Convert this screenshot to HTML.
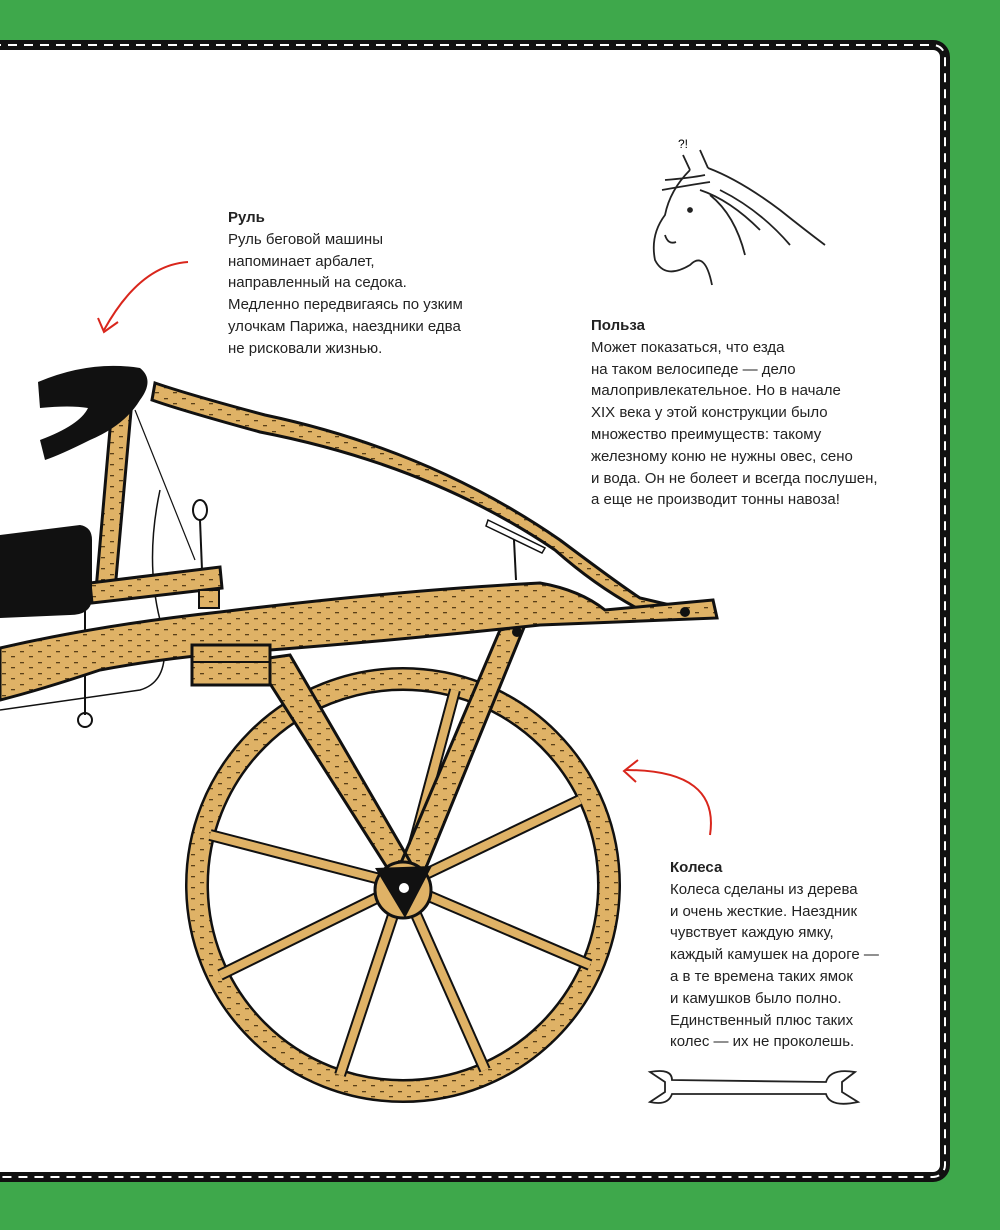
<!DOCTYPE html>
<html><head><meta charset="utf-8"><style>
html,body{margin:0;padding:0}
body{width:1000px;height:1230px;background:#3ea84b;position:relative;overflow:hidden;font-family:"Liberation Sans","Noto Sans CJK SC",sans-serif}
.t{position:absolute;font-size:15px;line-height:21.8px;color:#222}
.t b{font-weight:bold}
svg{position:absolute;left:0;top:0}
</style></head><body>
<svg width="1000" height="1230" viewBox="0 0 1000 1230">
<defs>
<pattern id="w" width="18" height="11" patternUnits="userSpaceOnUse">
<rect width="18" height="11" fill="#dfb266"/>
<rect x="2" y="2" width="4" height="1.3" fill="#5a4018"/>
<rect x="11" y="7" width="4" height="1.3" fill="#5a4018"/>
</pattern>
</defs>
<rect x="-20" y="45" width="965" height="1132" rx="12" fill="#fff" stroke="#111" stroke-width="10"/>
<rect x="-20" y="45" width="965" height="1132" rx="12" fill="none" stroke="#fff" stroke-width="2" stroke-dasharray="9 7"/>

<circle cx="403" cy="885" r="206" fill="none" stroke="#111" stroke-width="24"/>
<circle cx="403" cy="885" r="206" fill="none" stroke="url(#w)" stroke-width="19"/>
<g stroke="#111" stroke-width="12">
<line x1="403" y1="885" x2="210" y2="835"/><line x1="403" y1="885" x2="220" y2="975"/>
<line x1="403" y1="885" x2="340" y2="1075"/><line x1="403" y1="885" x2="485" y2="1070"/>
<line x1="403" y1="885" x2="590" y2="965"/><line x1="403" y1="885" x2="580" y2="800"/>
<line x1="403" y1="885" x2="455" y2="690"/>
</g>
<g stroke="#dfb266" stroke-width="8">
<line x1="403" y1="885" x2="210" y2="835"/><line x1="403" y1="885" x2="220" y2="975"/>
<line x1="403" y1="885" x2="340" y2="1075"/><line x1="403" y1="885" x2="485" y2="1070"/>
<line x1="403" y1="885" x2="590" y2="965"/><line x1="403" y1="885" x2="580" y2="800"/>
<line x1="403" y1="885" x2="455" y2="690"/>
</g>
<path d="M255 660 L290 655 L415 870 L395 880 Z M500 630 L525 625 L425 870 L400 865 Z" fill="url(#w)" stroke="#111" stroke-width="3"/>
<circle cx="403" cy="890" r="28" fill="#dfb266" stroke="#111" stroke-width="3"/>
<path d="M375 868 L432 866 L405 918 Z" fill="#111"/>
<circle cx="404" cy="888" r="5" fill="#fff"/>

<path d="M160 490 Q145 560 160 620 Q175 680 140 690 L0 710" fill="none" stroke="#111" stroke-width="1.5"/>
<line x1="135" y1="410" x2="195" y2="560" stroke="#111" stroke-width="1.2"/>
<line x1="85" y1="600" x2="85" y2="715" stroke="#111" stroke-width="2"/>
<circle cx="85" cy="720" r="7" fill="none" stroke="#111" stroke-width="2"/>
<ellipse cx="200" cy="510" rx="7" ry="10" fill="none" stroke="#111" stroke-width="2"/>
<line x1="200" y1="520" x2="203" y2="595" stroke="#111" stroke-width="2"/>
<line x1="514" y1="540" x2="516" y2="580" stroke="#111" stroke-width="2"/>
<path d="M488 520 L545 548 L542 553 L486 526 Z" fill="#fff" stroke="#111" stroke-width="1.5"/>

<path d="M155 383 Q190 395 265 415 Q430 450 560 540 Q620 585 640 598 L700 612 L650 615 Q600 590 555 550 Q430 465 260 432 Q180 410 152 400 Z" fill="url(#w)" stroke="#111" stroke-width="3"/>
<path d="M113 395 L132 400 L115 590 L96 590 Z" fill="url(#w)" stroke="#111" stroke-width="3"/>
<path d="M90 583 L220 567 L222 588 L92 603 Z" fill="url(#w)" stroke="#111" stroke-width="3"/>
<rect x="199" y="590" width="20" height="18" fill="url(#w)" stroke="#111" stroke-width="2"/>
<path d="M0 648 Q100 625 220 612 Q400 590 540 583 Q580 590 605 610 L713 600 L717 618 L540 625 Q400 640 270 650 Q180 655 100 670 Q40 690 0 700 Z" fill="url(#w)" stroke="#111" stroke-width="3"/>
<rect x="192" y="645" width="78" height="40" fill="url(#w)" stroke="#111" stroke-width="3"/>
<line x1="192" y1="662" x2="270" y2="662" stroke="#111" stroke-width="2"/>
<circle cx="685" cy="612" r="5" fill="#111"/>
<circle cx="517" cy="632" r="5" fill="#111"/>

<path d="M38 382 Q90 360 140 368 Q155 380 140 400 Q125 425 90 440 Q60 455 45 460 L40 440 Q80 425 88 408 Q70 405 40 408 Z" fill="#111"/>
<path d="M0 535 L80 525 Q92 527 92 540 L92 600 Q90 615 70 615 L0 618 Z" fill="#111"/>

<path d="M188 262 Q140 265 104 330" fill="none" stroke="#d9261c" stroke-width="2"/>
<path d="M98 318 L104 332 L118 322" fill="none" stroke="#d9261c" stroke-width="2"/>
<path d="M710 835 Q720 770 626 770" fill="none" stroke="#d9261c" stroke-width="2"/>
<path d="M638 760 L624 771 L636 782" fill="none" stroke="#d9261c" stroke-width="2"/>

<g fill="none" stroke="#222" stroke-width="1.8">
<path d="M683 155 L690 170 M700 150 L708 168"/>
<path d="M690 170 Q670 190 665 215 Q650 235 655 260 Q665 280 690 265 Q705 250 712 285"/>
<path d="M708 168 Q740 180 780 210 Q805 230 825 245"/>
<path d="M665 180 Q690 178 705 175 M662 190 Q690 185 710 182 M700 190 Q730 200 760 230 M710 195 Q735 215 745 255 M720 190 Q760 210 790 245"/>
<path d="M665 235 Q668 245 676 242"/>
<circle cx="690" cy="210" r="2" fill="#222"/>
</g>
<text x="678" y="148" font-family="Liberation Sans" font-size="12">?!</text>
<path d="M650 1072 Q672 1068 672 1080 L826 1082 Q830 1068 855 1072 L842 1082 L842 1092 L858 1102 Q830 1108 826 1094 L672 1094 Q668 1106 650 1102 L665 1092 L665 1082 Z" fill="#fff" stroke="#222" stroke-width="1.8"/>
</svg>

<div class="t" style="left:228px;top:207px"><b>Руль</b><br>Руль беговой машины<br>напоминает арбалет,<br>направленный на седока.<br>Медленно передвигаясь по узким<br>улочкам Парижа, наездники едва<br>не рисковали жизнью.</div>
<div class="t" style="left:591px;top:315px"><b>Польза</b><br>Может показаться, что езда<br>на таком велосипеде — дело<br>малопривлекательное. Но в начале<br>XIX века у этой конструкции было<br>множество преимуществ: такому<br>железному коню не нужны овес, сено<br>и вода. Он не болеет и всегда послушен,<br>а еще не производит тонны навоза!</div>
<div class="t" style="left:670px;top:857px"><b>Колеса</b><br>Колеса сделаны из дерева<br>и очень жесткие. Наездник<br>чувствует каждую ямку,<br>каждый камушек на дороге —<br>а в те времена таких ямок<br>и камушков было полно.<br>Единственный плюс таких<br>колес — их не проколешь.</div>
</body></html>
